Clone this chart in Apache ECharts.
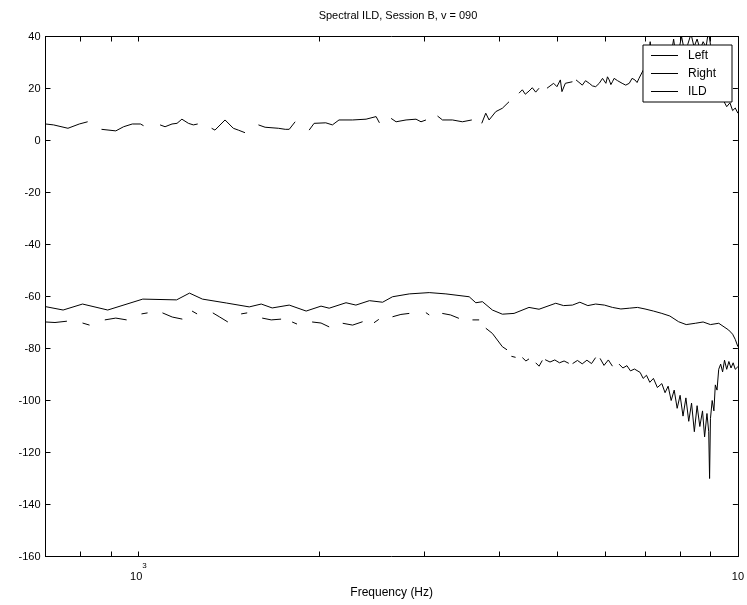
<!DOCTYPE html>
<html>
<head>
<meta charset="utf-8">
<script src="https://cdn.jsdelivr.net/npm/echarts@6/dist/echarts.min.js"></script>
<style>
html, body { margin: 0; padding: 0; background: #fff; }
#chart { width: 747px; height: 605px; }
</style>
</head>
<body>
<div id="chart"></div>
<script>
// values (frequency in Hz, level in dB)
const leftFreq = [700, 749, 807, 889, 1017, 1158, 1217, 1279, 1402, 1531, 1603, 1672, 1785, 1905, 2017, 2081, 2220, 2306, 2429, 2555,
  2654, 2831, 3056, 3258, 3563, 3655, 3749, 3895, 4047, 4233, 4483, 4659, 4968, 5120, 5297, 5450, 5620, 5792, 5990, 6177,
  6380, 6589, 6800, 7000, 7230, 7467, 7700, 7964, 8200, 8493, 8750, 9000, 9291, 9653, 9800, 9900, 10000];
const leftDb = [-63.9, -65.2, -62.9, -65.2, -61, -61.3, -58.7, -61, -62.5, -64, -62.9, -64.4, -63.3, -65.6, -63.7, -64.5, -62.4, -63.3, -61.6, -62.2,
  -60.1, -59, -58.5, -59, -60.1, -62.4, -62, -65.2, -66.8, -66.5, -64.2, -64.9, -62.6, -63.5, -63.3, -62.2, -63.5, -62.9, -63.3, -64.2,
  -64.8, -64.5, -64.2, -64.8, -65.6, -66.5, -67.5, -69.7, -70.8, -70.3, -69.8, -70.8, -70.3, -72.9, -74.5, -76.5, -79.3];

// null = gap in the trace
const rightFreq = [700, 726, 760, 783, 807, 829, 852, 879, 917, 956, 985, 1012, 1036, 1062, 1097, 1139, 1184, 1206, 1229, 1253,
  1287, 1331, 1367, 1410, 1447, 1484, 1519, 1555, 1609, 1666, 1730, 1764, 1805, 1839, 1871, 1949, 2017, 2081, 2140, 2192,
  2277, 2366, 2420, 2472, 2518, 2580, 2654, 2741, 2831, 2920, 3017, 3056, 3130, 3213, 3317, 3425, 3520, 3608, 3702, 3750,
  3798, 3895, 4047, 4120, 4155, 4190, 4258, 4310, 4370, 4430, 4483, 4540, 4600, 4660, 4718, 4745, 4770, 4860, 4950, 5040,
  5130, 5223, 5260, 5300, 5400, 5500, 5600, 5700, 5790, 5840, 5890, 5980, 6080, 6177, 6250, 6335, 6430, 6530, 6620, 6722,
  6870, 6950, 7040, 7130, 7230, 7340, 7467, 7560, 7650, 7740, 7830, 7920, 8010, 8100, 8190, 8280, 8370, 8460, 8550, 8640,
  8730, 8800, 8880, 8940, 8970, 9000, 9060, 9120, 9170, 9230, 9290, 9360, 9430, 9500, 9580, 9660, 9740, 9820, 9900, 10000];
const rightDb = [-69.8, -70, -69.5, null, -70.2, -71, null, -69, -68.3, -69, null, -66.7, -66.3, null, -66.3, -67.9, -68.7, null, -65.6, -66.7,
  null, -66.3, -67.9, -69.8, null, -66.7, -66.3, null, -68.3, -69, -68.7, null, -69.8, -70.6, null, -69.8, -70.2, -71.7, null, -70.3,
  -71, -69.7, null, -70.1, -68.8, null, -67.8, -66.9, -66.5, null, -66.2, -67.1, null, -66.5, -67.1, -68.4, null, -69, -69, null,
  -72.2, -74.2, -79.3, -80.5, null, -83, -83.4, null, -83.5, -84.8, -84, null, -85.5, -86.8, -84.6, null, -84.3, -85.2, -84.4, -85.5,
  -84.8, -85.7, null, -85.8, -84.6, -85.9, -84.5, -85.8, -83.5, null, -83.8, -86.5, -84.4, -86.8, null, -86, -87.5, -86.6, -88.6, -87.9,
  -89.2, -91.5, -90.3, -93, -91.5, -95, -93.5, -97, -94.5, -100, -96, -103, -98, -106, -99, -108, -101, -112, -102, -110,
  -104, -114, -105, -112, -130, -107, -100, -104, -94, -96, -88, -86, -89, -84.5, -88, -85, -87.5, -85.5, -88, -87];

const ildFreq = [700, 722, 763, 797, 823, 845, 868, 917, 945, 977, 1008, 1020, 1045, 1087, 1108, 1138, 1160, 1182, 1212, 1235,
  1256, 1290, 1325, 1342, 1395, 1440, 1468, 1506, 1550, 1586, 1627, 1712, 1758, 1785, 1826, 1870, 1927, 1964, 2054, 2107,
  2161, 2277, 2398, 2492, 2524, 2580, 2640, 2691, 2796, 2905, 2961, 3018, 3090, 3155, 3216, 3341, 3471, 3599, 3660, 3739,
  3797, 3846, 3946, 4047, 4152, 4230, 4314, 4370, 4420, 4483, 4540, 4600, 4659, 4730, 4804, 4928, 4991, 5057, 5088, 5155,
  5297, 5330, 5371, 5430, 5502, 5570, 5651, 5720, 5792, 5871, 5946, 6023, 6060, 6100, 6140, 6177, 6217, 6300, 6411, 6500,
  6589, 6660, 6733, 6790, 6840, 6950, 7050, 7140, 7230, 7340, 7450, 7560, 7650, 7740, 7813, 7900, 7990, 8055, 8150, 8250,
  8353, 8450, 8550, 8650, 8750, 8850, 8931, 9000, 9100, 9200, 9290, 9400, 9480, 9580, 9700, 9800, 9900, 10000];
const ildDb = [6.35, 6.0, 4.7, 6.35, 7.2, null, 4.3, 3.7, 5.3, 6.35, 6.35, 5.7, null, 6.0, 5.3, 6.35, 6.6, 8.2, 6.6, 6.0,
  6.35, null, 4.7, 4.0, 7.9, 4.7, 4.0, 3.0, null, 6.0, 5.1, 4.7, 4.3, 4.3, 7.2, null, 4.0, 6.6, 6.8, 6.0,
  7.9, 7.9, 8.2, 9.2, 6.8, null, 8.5, 7.2, 7.9, 8.2, 7.2, 7.9, null, 9.4, 7.9, 7.9, 7.2, 7.9, null, 6.6,
  10.5, 7.9, 11.1, 12.4, 14.9, null, 18.2, 19.5, 17.8, 19, 20.3, 18.6, 20.1, null, 20.1, 22, 20.7, 23.3, 18.8, 22,
  22.6, null, 23.3, 22.4, 21.3, 23, 22, 21, 20.7, 22, 23.9, 22, 24.5, 23.3, 21.5, 22.6, 23.9, 23, 22, 21.3,
  22, 23.9, 23.3, 22.3, 23.9, 27, 25, 38, 26, 30, 28, 31, 28, 33, 39, 31, 36, 40, 34, 37,
  41, 36, 39, 35, 38, 36, 42, 37, 32, 27, 20, 16, 15, 13, 14.5, 11.5, 12.5, 10.5];

const xTickValues = [800, 900, 1000, 2000, 3000, 4000, 5000, 6000, 7000, 8000, 9000, 10000];
const xLabelValues = [1000, 10000];

const toPairs = (fs, vs) => fs.map((f, i) => [f, vs[i] === null ? '-' : vs[i]]);

const font = 'Liberation Sans, Arial, Helvetica, sans-serif';
const chart = echarts.init(document.getElementById('chart'));

const xBase = {
  type: 'log',
  logBase: 10,
  min: 700,
  max: 10000,
  splitLine: { show: false },
  minorTick: { show: false },
  axisLine: { onZero: false, lineStyle: { color: '#000', width: 1 } },
  axisTick: { inside: true, length: 5, customValues: xTickValues, lineStyle: { color: '#000' } }
};
const yBase = {
  type: 'value',
  min: -160,
  max: 40,
  interval: 20,
  splitLine: { show: false },
  axisLine: { show: true, onZero: false, lineStyle: { color: '#000', width: 1 } },
  axisTick: { show: true, inside: true, length: 5, lineStyle: { color: '#000' } }
};

const lineSeries = (name, pairs) => ({
  name: name,
  type: 'line',
  data: pairs,
  symbol: 'none',
  connectNulls: false,
  clip: true,
  lineStyle: { color: '#000', width: 1 },
  itemStyle: { color: '#000' },
  animation: false
});

chart.setOption({
  animation: false,
  backgroundColor: '#fff',
  textStyle: { fontFamily: font, color: '#000' },
  title: {
    text: 'Spectral ILD, Session B, v = 090',
    left: 393,
    top: 5,
    textAlign: 'center',
    textStyle: { fontSize: 11, fontWeight: 'normal', color: '#000', fontFamily: font }
  },
  legend: {
    data: ['Left', 'Right', 'ILD'],
    orient: 'vertical',
    right: 15,
    top: 45,
    padding: [3.5, 16, 3.5, 8],
    itemGap: 4,
    itemWidth: 27,
    itemHeight: 1,
    icon: 'rect',
    backgroundColor: '#fff',
    borderColor: '#000',
    borderWidth: 1,
    borderRadius: 0,
    textStyle: { fontSize: 12, lineHeight: 14, color: '#000', fontFamily: font, padding: [0, 0, 0, 5] }
  },
  grid: { left: 45.5, right: 7, top: 36.5, bottom: 48.5, containLabel: false },
  xAxis: [
    Object.assign({}, xBase, {
      position: 'bottom',
      name: 'Frequency (Hz)',
      nameLocation: 'middle',
      nameGap: 27,
      nameTextStyle: { fontSize: 12, color: '#000', fontFamily: font },
      axisLabel: {
        customValues: xLabelValues,
        margin: 5,
        color: '#000',
        formatter: v => Math.round(Math.log10(v)) === 3 ? '{b|10}{s|3}' : '{b|10}',
        rich: {
          b: { fontSize: 11, lineHeight: 30, fontFamily: font, color: '#000' },
          s: { fontSize: 8, lineHeight: 8, verticalAlign: 'top', fontFamily: font, color: '#000' }
        }
      }
    }),
    Object.assign({}, xBase, {
      position: 'top',
      axisLabel: { show: false }
    })
  ],
  yAxis: [
    Object.assign({}, yBase, {
      position: 'left',
      axisLabel: { fontSize: 11, color: '#000', margin: 5, fontFamily: font }
    }),
    Object.assign({}, yBase, {
      position: 'right',
      axisLabel: { show: false }
    })
  ],
  series: [
    lineSeries('Left', toPairs(leftFreq, leftDb)),
    lineSeries('Right', toPairs(rightFreq, rightDb)),
    lineSeries('ILD', toPairs(ildFreq, ildDb))
  ]
});
</script>
</body>
</html>
